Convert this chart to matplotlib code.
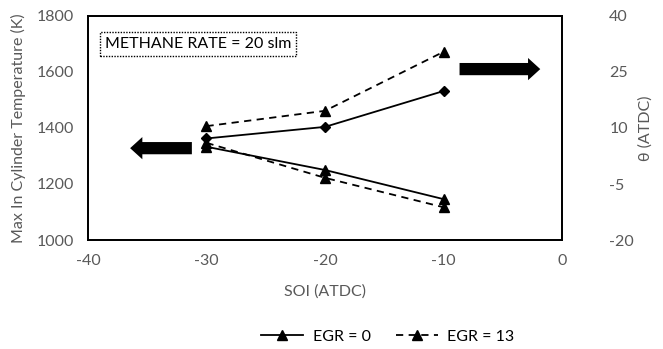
import numpy as np
import matplotlib
matplotlib.use("Agg")
import matplotlib.pyplot as plt
from matplotlib.lines import Line2D

plt.rcParams['font.family'] = ['Lato', 'DejaVu Sans']
plt.rcParams['axes.unicode_minus'] = False

# ---------------------------------------------------------------- data
soi = [-30, -20, -10]
temp_egr0 = [1333, 1250, 1146]      # left axis, K
temp_egr13 = [1347, 1222, 1117]
theta_egr0 = [7.2, 10.3, 19.9]      # right axis, ATDC
theta_egr13 = [10.5, 14.6, 30.4]

xticks = [-40, -30, -20, -10, 0]
yticks_left = [1000, 1200, 1400, 1600, 1800]
yticks_right = [-20, -5, 10, 25, 40]

grey = '#595959'
fs = 11.5

# ---------------------------------------------------------------- figure
fig = plt.figure(figsize=(6.63, 3.49), dpi=100)
ax = fig.add_axes([88/663, 1 - 240/349, 474/663, 224/349])
ax2 = ax.twinx()

# temperature (left axis)
ax.plot(soi, temp_egr0, 'k-', marker='^', ms=7, lw=1.3)
ax.plot(soi, temp_egr13, 'k--', marker='^', ms=7, lw=1.3, dashes=(4, 3))
# theta (right axis)
ax2.plot(soi, theta_egr0, 'k-', marker='D', ms=5.5, lw=1.3)
ax2.plot(soi, theta_egr13, 'k--', marker='^', ms=7, lw=1.3, dashes=(4, 3))

ax.set_xlim(-40, 0)
ax.set_ylim(1000, 1800)
ax2.set_ylim(-20, 40)
ax.set_xticks(xticks)
ax.set_yticks(yticks_left)
ax2.set_yticks(yticks_right)

for a in (ax, ax2):
    a.tick_params(length=0, labelsize=fs, labelcolor=grey)
    for s in a.spines.values():
        s.set_linewidth(1.3)
        s.set_color('black')
ax.tick_params(axis='y', pad=10)
ax.tick_params(axis='x', pad=10)
ax2.tick_params(axis='y', pad=34)

ax.set_xlabel('SOI (ATDC)', fontsize=fs, color=grey, labelpad=12)
ax.set_ylabel('Max In Cylinder Temperature (K)', fontsize=fs, color=grey, labelpad=8)
ax2.set_ylabel('\u03b8 (ATDC)', fontsize=fs, color=grey, labelpad=3)

# annotation box
ax.text(0.035, 0.875, 'METHANE RATE = 20 slm', transform=ax.transAxes,
        fontsize=fs, color='black', va='center', ha='left',
        bbox=dict(boxstyle='square,pad=0.3', fc='white', ec='black',
                  ls=(0, (1, 1)), lw=1))

# arrows pointing to the axis each pair belongs to
arrow = dict(arrowstyle='simple,head_length=0.55,head_width=1.0,tail_width=0.55',
             color='black', lw=0, mutation_scale=16)
ax.annotate('', xy=(0.083, 0.41), xytext=(0.225, 0.41),
            xycoords='axes fraction', arrowprops=arrow)
ax.annotate('', xy=(0.96, 0.763), xytext=(0.778, 0.763),
            xycoords='axes fraction', arrowprops=arrow)

# legend
handles = [Line2D([], [], color='k', ls='-', marker='^', ms=7, lw=1.3),
           Line2D([], [], color='k', ls='--', marker='^', ms=7, lw=1.3, dashes=(4, 3))]
fig.legend(handles, ['EGR = 0', 'EGR = 13'], loc='center', ncol=2,
           bbox_to_anchor=(0.585, 0.035), frameon=False, fontsize=fs,
           handlelength=2.6, handletextpad=0.6, columnspacing=1.6)

fig.savefig('out.png', dpi=100)
